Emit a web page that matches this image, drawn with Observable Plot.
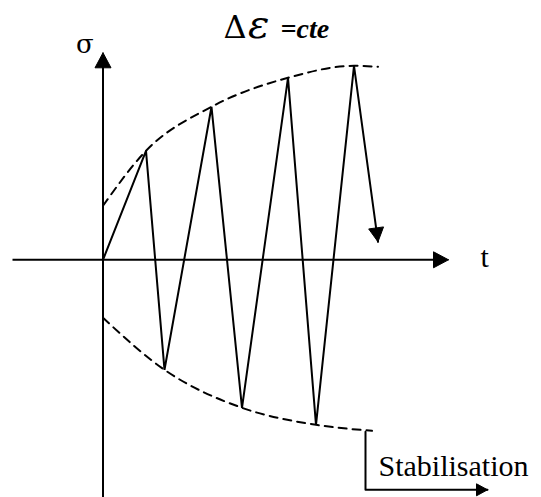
<!DOCTYPE html>
<html><head><meta charset="utf-8">
<script src="https://cdn.jsdelivr.net/npm/d3@7"></script>
<script src="https://cdn.jsdelivr.net/npm/@observablehq/plot@0.6"></script>
<style>html,body{margin:0;padding:0;background:#fff}</style>
</head><body><div id="chart"></div>
<script>
// Loading cycles at constant strain amplitude (t, sigma)
const cycleT     = [0, 43, 61.5, 108.5, 139, 185, 213, 251, 275];
const cycleSigma = [0, 109, -110, 153, -148, 182, -165, 194, 18];
// Envelopes (dashed)
const upperT     = [0, 43, 108.5, 185, 251, 275];
const upperSigma = [54, 109, 153, 182, 194, 193];
const lowerT     = [0, 61.5, 139, 213, 269];
const lowerSigma = [-58, -110, -148, -165, -171];
// Axes extents
const tAxisRange     = [-90, 345.5];
const sigmaAxisRange = [-245, 207];
// Stabilisation bracket
const stabT     = [262.5, 262.5, 384.5];
const stabSigma = [-172, -230, -230];
// Texts
const axisLabels = ["\u03C3", "t"];
const titleParts = ["\u0394", "\u03B5", "=cte"];
const stabLabel = "Stabilisation";

const zip = (a, b) => a.map((v, i) => ({t: v, s: b[i]}));
const cycle = zip(cycleT, cycleSigma);
const upper = zip(upperT, upperSigma);
const lower = zip(lowerT, lowerSigma);
const stab = zip(stabT, stabSigma);

function head(tip, from, L, W) {
  const dx = tip.t - from.t, dy = tip.s - from.s;
  const len = Math.hypot(dx, dy), ux = dx / len, uy = dy / len;
  const bx = tip.t - ux * L, by = tip.s - uy * L;
  return [{t: tip.t, s: tip.s}, {t: bx - uy * W, s: by + ux * W}, {t: bx + uy * W, s: by - ux * W}, {t: tip.t, s: tip.s}];
}
const nc = cycle.length;
const heads = [
  head({t: 0, s: sigmaAxisRange[1]}, {t: 0, s: 0}, 15, 8),
  head({t: tAxisRange[1], s: 0}, {t: 0, s: 0}, 15, 8),
  head(cycle[nc - 1], cycle[nc - 2], 14, 7.5),
  head(stab[2], stab[1], 11, 6)
];

const latin = "Liberation Serif";
const greek = "DejaVu Serif";
const chart = Plot.plot({
  width: 541, height: 497,
  marginTop: 0, marginRight: 0, marginBottom: 0, marginLeft: 0,
  x: {domain: [-102.5, 438.5], axis: null},
  y: {domain: [-237.7, 259.3], axis: null},
  marks: [
    Plot.line(upper, {x: "t", y: "s", curve: "monotone-x", stroke: "black", strokeWidth: 2, strokeDasharray: "8,6"}),
    Plot.line(lower, {x: "t", y: "s", curve: "monotone-x", stroke: "black", strokeWidth: 2, strokeDasharray: "8,6"}),
    Plot.ruleY([0], {x1: tAxisRange[0], x2: tAxisRange[1] - 10, stroke: "black", strokeWidth: 2}),
    Plot.ruleX([0], {y1: sigmaAxisRange[0], y2: sigmaAxisRange[1] - 10, stroke: "black", strokeWidth: 2}),
    Plot.line(cycle, {x: "t", y: "s", stroke: "black", strokeWidth: 2, strokeLinejoin: "miter"}),
    Plot.line(stab, {x: "t", y: "s", stroke: "black", strokeWidth: 2}),
    ...heads.map(h => Plot.line(h, {x: "t", y: "s", fill: "black", stroke: "black", strokeWidth: 1})),
    Plot.text([stabLabel], {x: stabT[0], y: stabSigma[1], dx: 13, dy: -14, text: d => d, textAnchor: "start", lineAnchor: "bottom", fontSize: 30, fontFamily: latin}),
    Plot.text([axisLabels[1]], {x: tAxisRange[1], y: 0, dx: 32, dy: 6.7, text: d => d, textAnchor: "start", lineAnchor: "bottom", fontSize: 30, fontFamily: latin}),
    Plot.text([axisLabels[0]], {x: 0, y: sigmaAxisRange[1], dx: -27, dy: 0, text: d => d, textAnchor: "start", lineAnchor: "bottom", fontSize: 26, fontFamily: greek}),
    Plot.text([titleParts[0]], {x: 120.5, y: 222.3, text: d => d, textAnchor: "start", lineAnchor: "bottom", fontSize: 32, fontFamily: greek}),
    Plot.text([titleParts[1]], {x: 145, y: 222.3, text: d => d, textAnchor: "start", lineAnchor: "bottom", fontSize: 40, fontStyle: "italic", fontFamily: greek}),
    Plot.text([titleParts[2]], {x: 177.5, y: 222.3, text: d => d, textAnchor: "start", lineAnchor: "bottom", fontSize: 28, fontStyle: "italic", fontWeight: "bold", fontFamily: latin})
  ]
});
document.getElementById("chart").appendChild(chart);
</script>
</body></html>
